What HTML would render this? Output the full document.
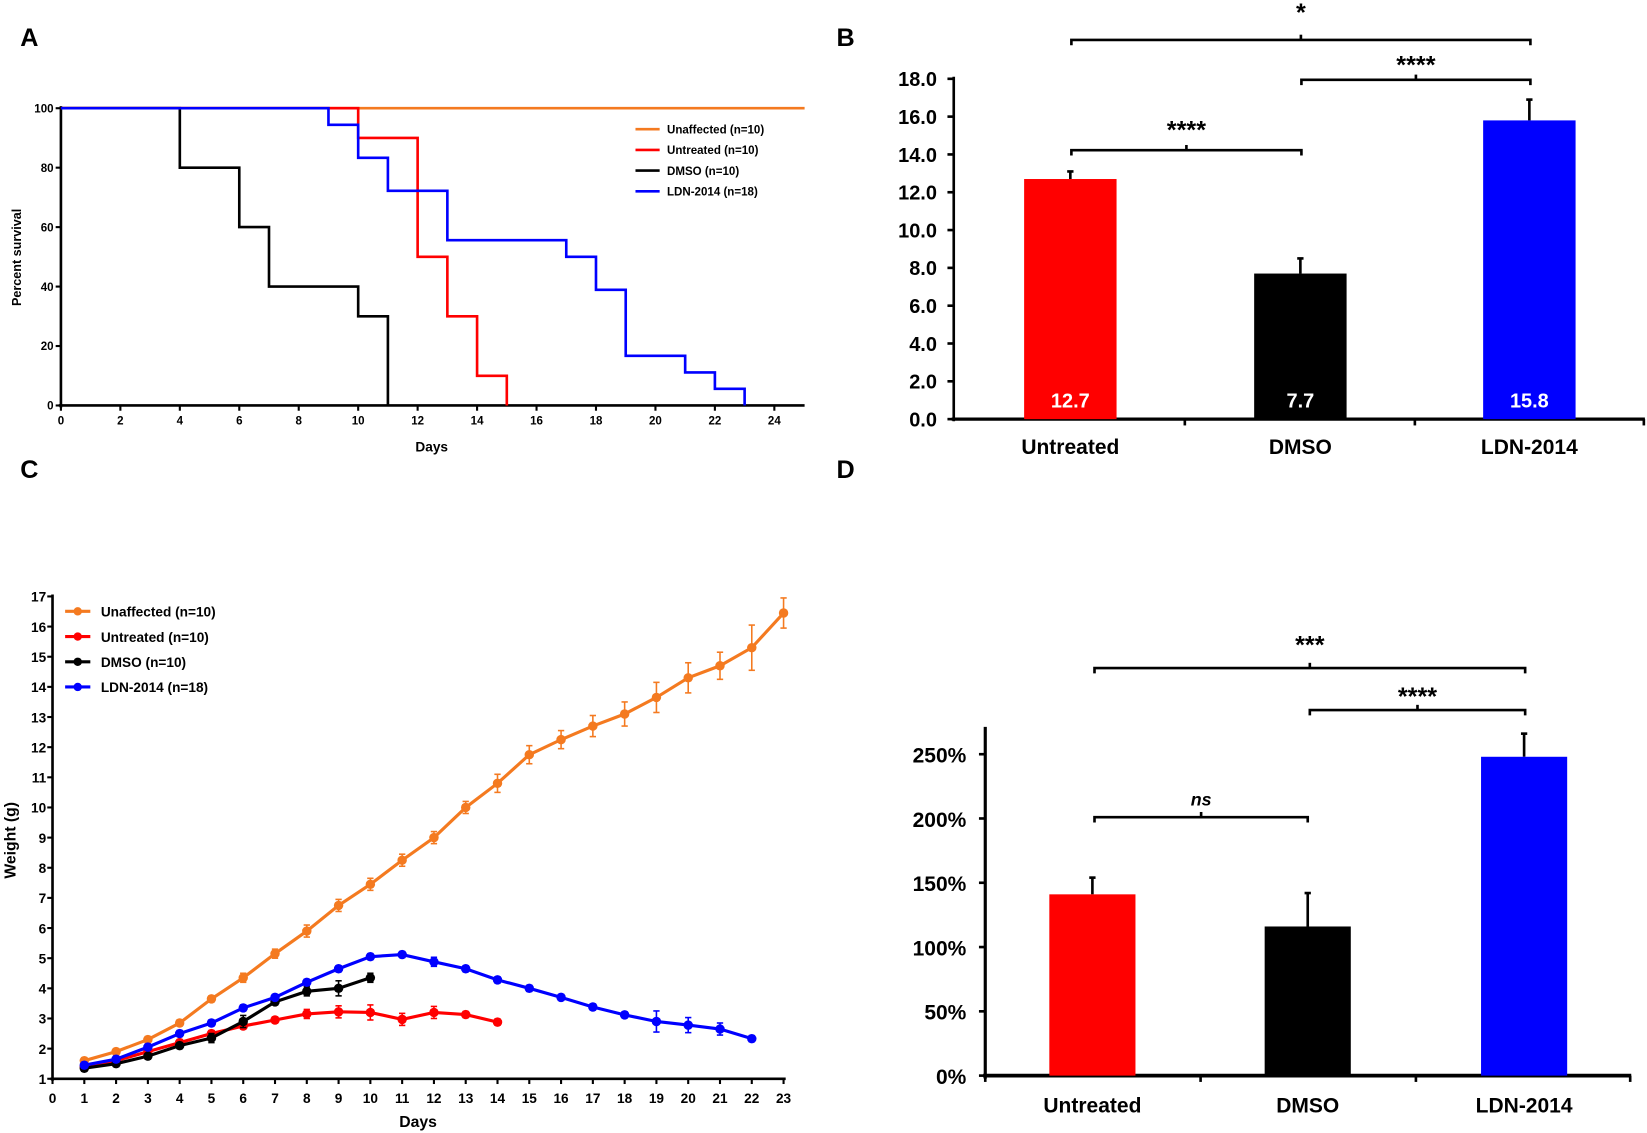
<!DOCTYPE html>
<html><head><meta charset="utf-8"><style>html,body{margin:0;padding:0;background:#fff}svg{display:block}text{font-family:"Liberation Sans",Arial,sans-serif;font-weight:bold}</style></head>
<body>
<svg id="s" width="1647" height="1133" viewBox="0 0 1568 1078.6" xmlns="http://www.w3.org/2000/svg"></svg>
<script>
const s=document.getElementById('s');let h='';
function L(x1,y1,x2,y2,c,w){h+=`<line x1="${x1}" y1="${y1}" x2="${x2}" y2="${y2}" stroke="${c||'#000'}" stroke-width="${w||2}"/>`;}
function T(x,y,t,sz,a,c,extra){h+=`<text x="${x}" y="${y}" font-size="${sz}" text-anchor="${a||'middle'}" fill="${c||'#000'}" ${extra||''}>${t}</text>`;}
function R(x,y,w,hh,c){h+=`<rect x="${x}" y="${y}" width="${w}" height="${hh}" fill="${c}"/>`;}
function P(d,c,w){h+=`<path d="${d}" fill="none" stroke="${c}" stroke-width="${w}" stroke-linejoin="miter"/>`;}
T(28,44,'A',24);T(805,44,'B',24);T(28,455,'C',24);T(805,455,'D',24);
const ax=d=>58+d*28.3, ay=v=>386-v*2.83;
L(58,101,58,388,'#000',2.5);L(56,386,766,386,'#000',2.5);
for(let v=0;v<=100;v+=20){L(53,ay(v),58,ay(v));T(51,ay(v)+4,v,11,'end');}
for(let d=0;d<=24;d+=2){L(ax(d),386,ax(d),391);T(ax(d),404,d,11);}
T(411,430,'Days',13);
T(20,245,'Percent survival',12,'middle','#000','transform="rotate(-90 20 245)"');
function step(pts,c){let d=`M${ax(0)},${ay(100)}`;for(const [t,v] of pts){d+=` H${ax(t)} V${ay(v)}`;}P(d,c,2.5);}
P(`M${ax(0)},${ay(100)} H766`,'#f47a20',2.5);
step([[10,90],[12,50],[13,30],[14,10],[15,0]],'#f00');
step([[4,80],[6,60],[7,40],[10,30],[11,0]],'#000');
step([[9,94.4],[10,83.3],[11,72.2],[13,55.6],[17,50],[18,38.9],[19,16.7],[21,11.1],[22,5.6],[23,0]],'#0000ff');
[['#f47a20','Unaffected (n=10)'],['#f00','Untreated (n=10)'],['#000','DMSO  (n=10)'],['#0000ff','LDN-2014 (n=18)']].forEach((e,i)=>{let y=123+i*19.7;L(605,y,628,y,e[0],2.5);T(635,y+4,e[1],11,'start');});
const by=v=>399-v*18;
L(908,73,908,401,'#000',2.5);L(906,399,1566,399,'#000',3);
for(let v=0;v<=18;v+=2){L(902,by(v),908,by(v),'#000',2.5);T(892,by(v)+7,v.toFixed(1),19,'end');}
[1128,1347,1565].forEach(x=>L(x,399,x,405,'#000',2.5));
[[1019,12.7,13.1,'#f00','Untreated'],[1238,7.7,8.5,'#000','DMSO'],[1456,15.8,16.9,'#0000ff','LDN-2014']].forEach(b=>{
 L(b[0],by(b[1]),b[0],by(b[2]),'#000',2.5);L(b[0]-3,by(b[2]),b[0]+3,by(b[2]),'#000',2.5);
 R(b[0]-44,by(b[1]),88,by(0)-by(b[1]),b[3]);T(b[0],388,b[1].toFixed(1),19,'middle','#fff');T(b[0],432,b[4],20);});
function BR(x1,x2,y,txt,ty,it){P(`M${x1},${y+5} V${y} H${x2} V${y+5}`,'#000',2.5);L((x1+x2)/2,y,(x1+x2)/2,y-5,'#000',2.5);T((x1+x2)/2,ty,txt,it?17:24,'middle','#000',it?'font-style="italic"':'');}
BR(1020,1457,38,'*',20);BR(1239,1457,76,'****',70);BR(1020,1239,143,'****',132);
const cx=d=>50+d*30.26, cy=v=>1027-(v-1)*28.7;
L(50,566,50,1029,'#000',2.5);L(48,1027,748,1027,'#000',2.5);
for(let v=1;v<=17;v++){L(45,cy(v),50,cy(v));T(44,cy(v)+5,v,13,'end');}
for(let d=0;d<=23;d++){L(cx(d),1027,cx(d),1032);T(cx(d),1050,d,13);}
T(398,1073,'Days',15);
T(15,800,'Weight (g)',15,'middle','#000','transform="rotate(-90 15 800)"');
function series(vals,errs,c){let d='';vals.forEach((v,i)=>{d+=(i?'L':'M')+cx(i+1)+','+cy(v);});P(d,c,3);
 vals.forEach((v,i)=>{let e=errs[i]||0.1,x=cx(i+1);L(x,cy(v-e),x,cy(v+e),c,1.5);L(x-3,cy(v-e),x+3,cy(v-e),c,1.5);L(x-3,cy(v+e),x+3,cy(v+e),c,1.5);h+=`<circle cx="${x}" cy="${cy(v)}" r="4.5" fill="${c}"/>`;});}
series([1.6,1.9,2.3,2.85,3.65,4.35,5.15,5.9,6.75,7.45,8.25,9.0,10.0,10.8,11.75,12.25,12.7,13.1,13.65,14.3,14.7,15.3,16.45],[.1,.1,.1,.1,.1,.15,.15,.2,.2,.2,.2,.2,.2,.3,.3,.3,.35,.4,.5,.5,.45,.75,.5],'#f47a20');
series([1.4,1.6,1.9,2.2,2.5,2.75,2.95,3.15,3.22,3.2,2.97,3.2,3.13,2.88],[.1,.1,.1,.1,.1,.1,.1,.15,.2,.25,.2,.2,.1,.1],'#f00');
series([1.35,1.5,1.75,2.1,2.35,2.9,3.55,3.9,4.0,4.35],[.1,.1,.1,.1,.15,.2,.1,.15,.25,.15],'#000');
series([1.45,1.65,2.05,2.5,2.85,3.35,3.7,4.2,4.65,5.05,5.12,4.88,4.65,4.28,4.0,3.7,3.38,3.12,2.9,2.78,2.65,2.33],[.1,.1,.1,.1,.1,.1,.1,.1,.1,.1,.1,.15,.1,.1,.1,.1,.1,.1,.35,.25,.2,.1],'#0000ff');
[['#f47a20','Unaffected (n=10)'],['#f00','Untreated (n=10)'],['#000','DMSO  (n=10)'],['#0000ff','LDN-2014 (n=18)']].forEach((e,i)=>{let y=582+i*24;L(62,y,86,y,e[0],3);h+=`<circle cx="74" cy="${y}" r="4" fill="${e[0]}"/>`;T(96,y+5,e[1],13,'start');});
const dy=v=>1024-v*1.224;
L(938,692,938,1027,'#000',3);L(936,1024,1553,1024,'#000',3.5);
for(let v=0;v<=250;v+=50){L(932,dy(v),938,dy(v),'#000',2.5);T(920,dy(v)+8,v+'%',20,'end');}
[938,1143,1348,1552].forEach(x=>L(x,1024,x,1030,'#000',2.5));
[[1040,141,154,'#f00','Untreated'],[1245,116,142,'#000','DMSO'],[1451,248,266,'#0000ff','LDN-2014']].forEach(b=>{
 L(b[0],dy(b[1]),b[0],dy(b[2]),'#000',2.5);L(b[0]-3,dy(b[2]),b[0]+3,dy(b[2]),'#000',2.5);
 R(b[0]-41,dy(b[1]),82,dy(0)-dy(b[1]),b[3]);T(b[0],1059,b[4],20);});
BR(1042,1452,636,'***',622);BR(1247,1452,676,'****',671);BR(1042,1245,778,'ns',767,true);
s.innerHTML=h;
</script>
</body></html>
